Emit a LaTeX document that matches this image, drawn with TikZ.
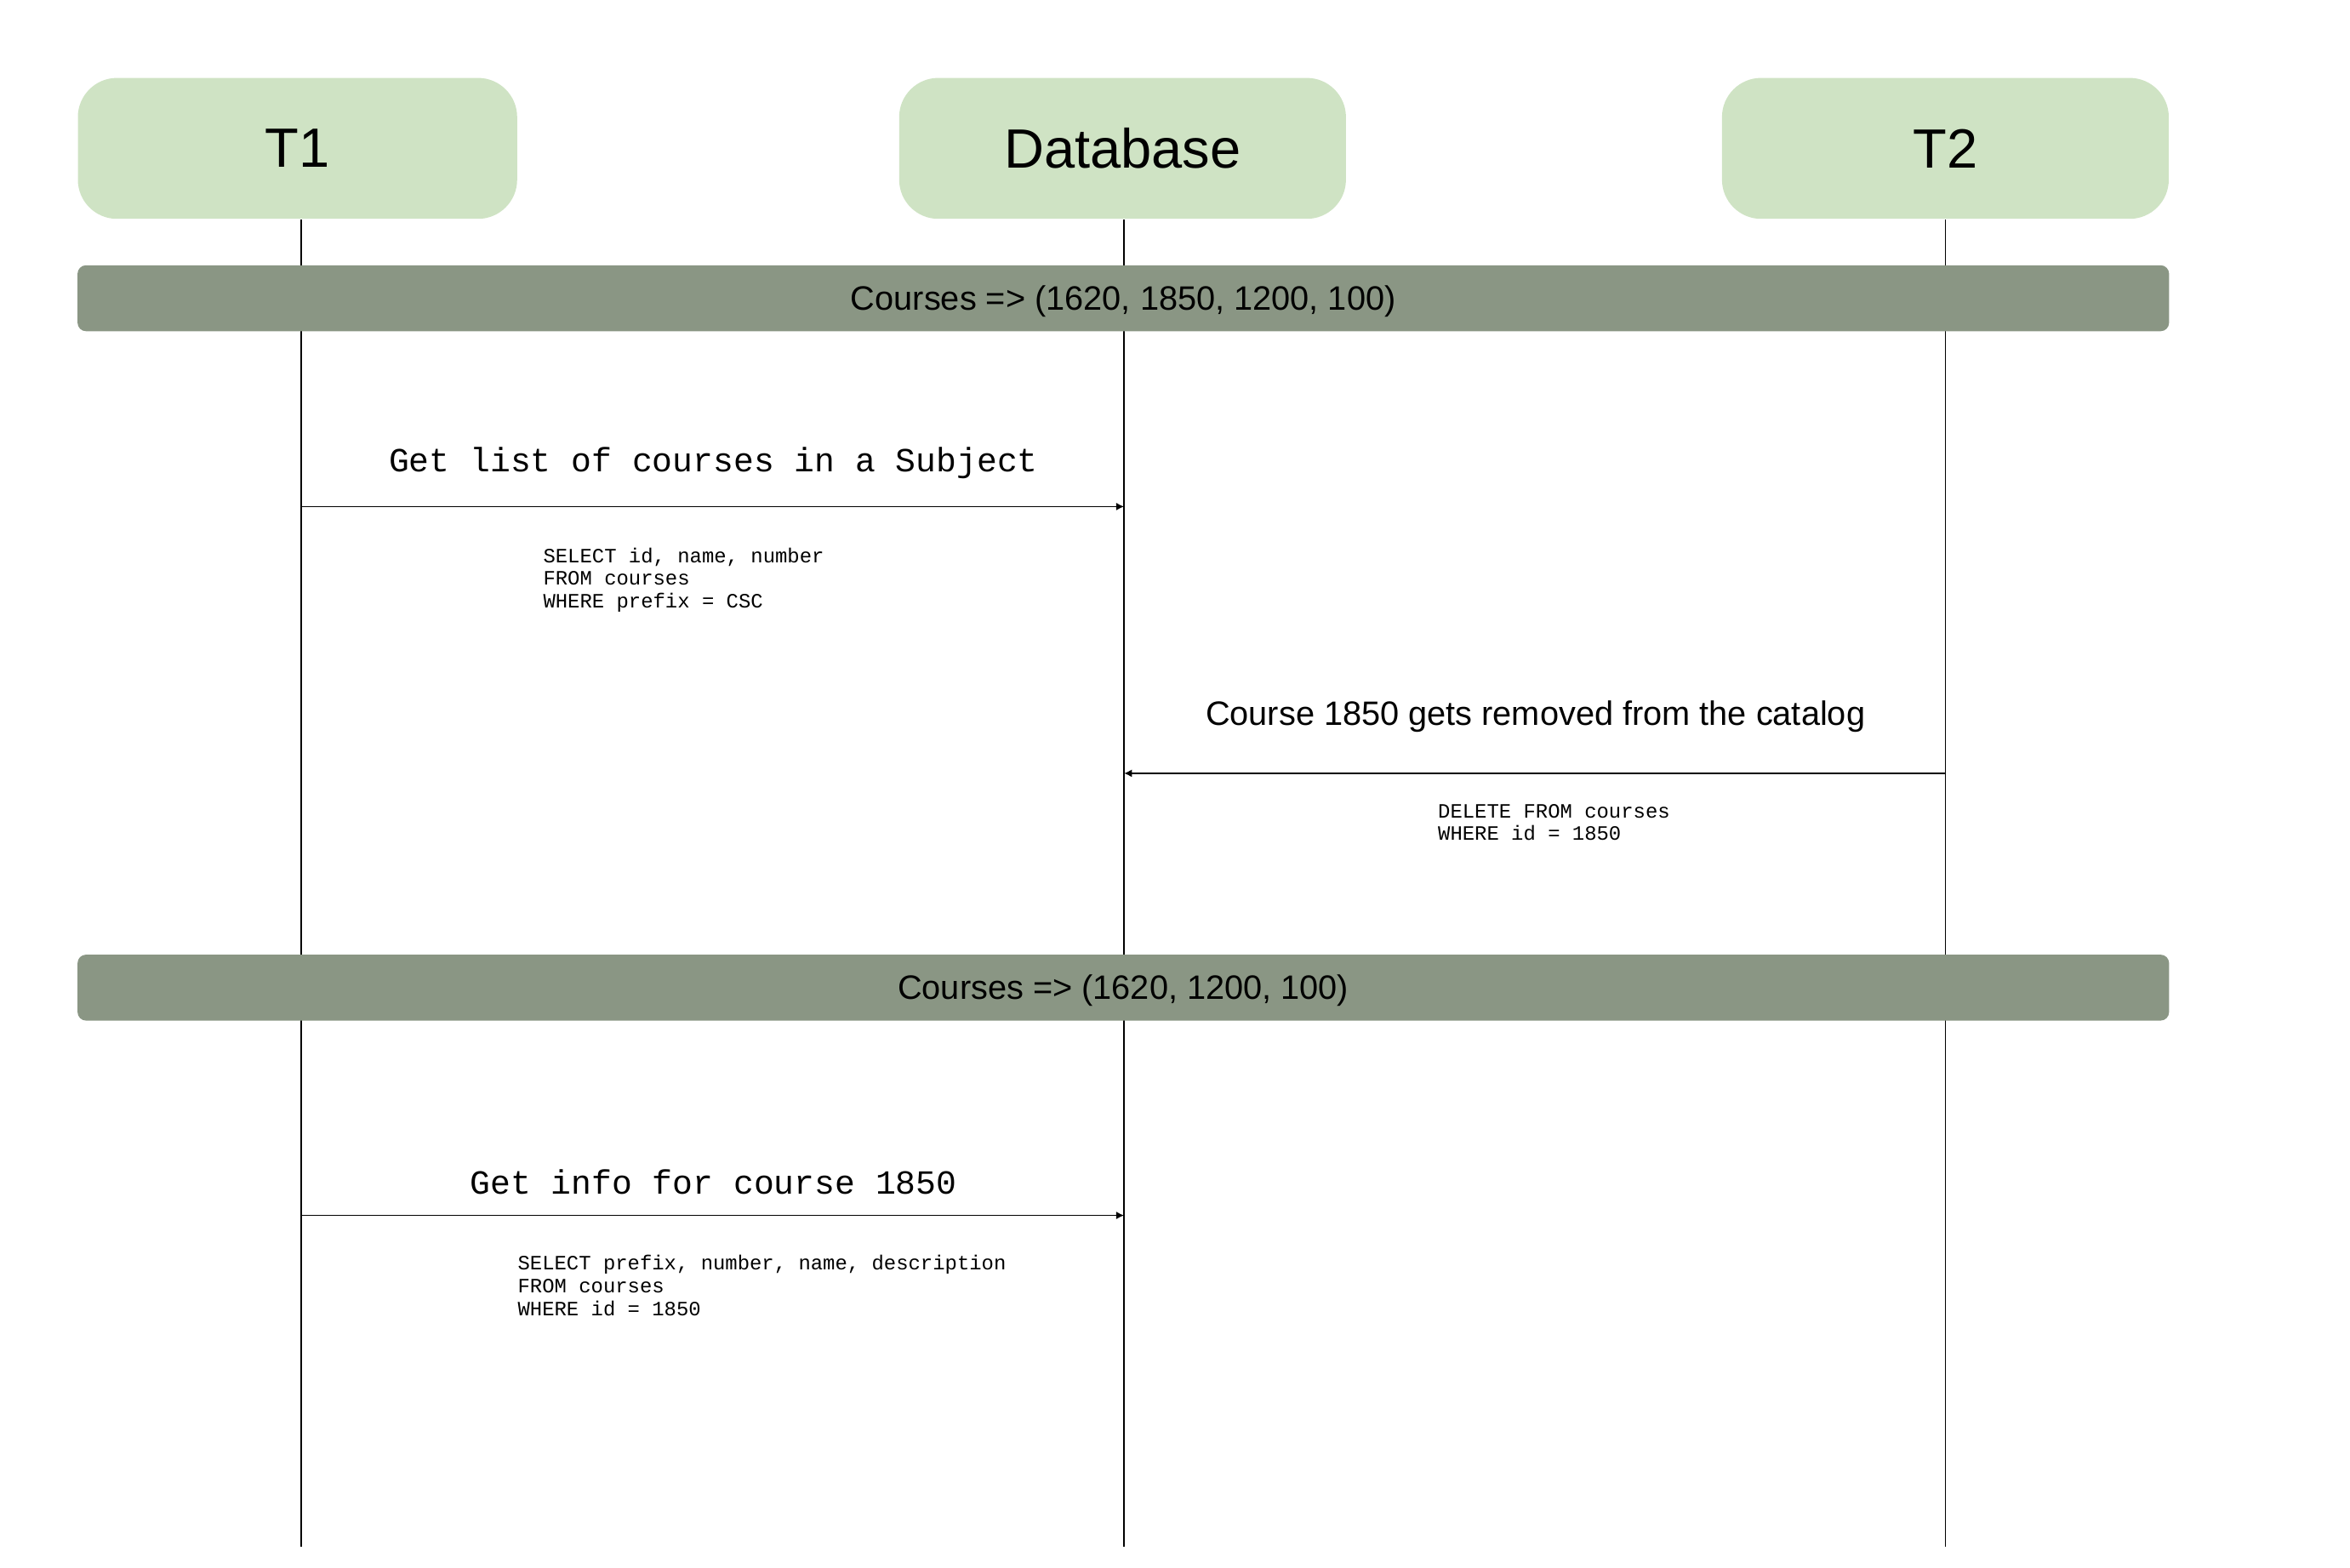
\documentclass[tikz,border=0pt]{standalone}
\usepackage{fontspec}
\setmainfont{Liberation Sans}
\setmonofont{Liberation Mono}
\usetikzlibrary{arrows.meta}
\definecolor{actorgreen}{HTML}{CFE3C4}
\definecolor{stategray}{HTML}{8A9684}

\begin{document}
\begin{tikzpicture}[x=0.017615cm,y=-0.017615cm,line width=0.5pt]
	    \tikzstyle{actor}=[fill=actorgreen,rounded corners=0.46cm,minimum height=1.656cm,inner sep=0pt,text depth=0pt,font=\fontsize{18.5}{22}\selectfont]
	    \tikzstyle{state}=[fill=stategray,rounded corners=0.1cm,minimum width=24.573cm,minimum height=0.775cm,inner sep=0pt,text height=10.5pt,text depth=2.7pt,font=\fontsize{11.3}{13}\selectfont]
	    \tikzstyle{msg}=[-{Latex[length=2.6pt,width=2.6pt]}]
	    \tikzstyle{call}=[anchor=base,inner sep=0pt,font=\ttfamily\fontsize{11.3}{13}\selectfont]
	    \tikzstyle{note}=[anchor=base,inner sep=0pt,font=\fontsize{11.3}{13}\selectfont]
	    \tikzstyle{query}=[anchor=north west,align=left,inner sep=0pt,font=\ttfamily\fontsize{6.8}{7.6}\selectfont]

	    \useasboundingbox (0,0) rectangle (1568,1046);

	    \node[actor,minimum width=5.161cm](t1) at (198.5,99){T1};
	    \node[actor,minimum width=5.249cm](db) at (749,99){Database};
	    \node[actor,minimum width=5.249cm](t2) at (1298,99){T2};

	    \coordinate (t1end) at (201,1032);
	    \coordinate (dbend) at (750,1032);
	    \coordinate (t2end) at (1298,1032);

	    % lifelines
	    \draw[-] (t1end |- t1.south) -- (t1end);
	    \draw[-] (dbend |- db.south) -- (dbend);
	    \draw[-] (t2end |- t2.south) -- (t2end);

	    \node[state](s1) at (749.5,199){Courses => (1620, 1850, 1200, 100)};
	    \node[state](s2) at (749.5,659){Courses => (1620, 1200, 100)};

	    \coordinate (m1a) at (201,338);
	    \coordinate (m1b) at (750,338);
	    \coordinate (m2a) at (1298,516);
	    \coordinate (m2b) at (750,516);
	    \coordinate (m3a) at (201,811);
	    \coordinate (m3b) at (750,811);

	    \draw[msg] (m1a) -- (m1b);
	    \draw[msg] (m2a) -- (m2b);
	    \draw[msg] (m3a) -- (m3b);

	    \node[call](l1) at (476,315){Get list of courses in a Subject};
	    \node[query](q1) at (362,365){SELECT id, name, number\\FROM courses\\WHERE prefix = CSC};

	    \node[note](l2) at (1024.5,484){Course 1850 gets removed from the catalog};
	    \node[query](q2) at (959,536){DELETE FROM courses\\WHERE id = 1850};

	    \node[call](l3) at (476,797){Get info for course 1850};
	    \node[query](q3) at (345,837){SELECT prefix, number, name, description\\FROM courses\\WHERE id = 1850};
	\end{tikzpicture}
\end{document}
